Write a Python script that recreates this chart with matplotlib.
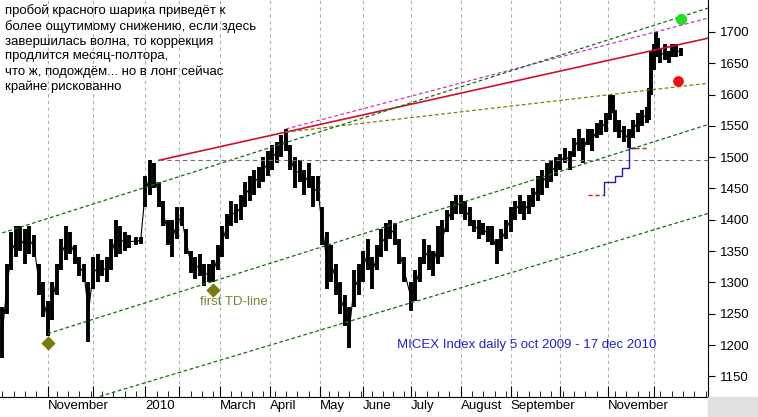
import numpy as np
import matplotlib
matplotlib.use("Agg")
import matplotlib.pyplot as plt
from matplotlib.patches import Rectangle

plt.rcParams['font.family'] = ['Liberation Sans', 'DejaVu Sans']

# MICEX daily, sampled bars: date, low, high
bar_dates = [
    "2009-10-05", "2009-10-07", "2009-10-09", "2009-10-13", "2009-10-15", "2009-10-19",
    "2009-10-21", "2009-10-23", "2009-10-27", "2009-10-29", "2009-11-02", "2009-11-05",
    "2009-11-09", "2009-11-11", "2009-11-13", "2009-11-17", "2009-11-19", "2009-11-23",
    "2009-11-25", "2009-11-27", "2009-12-01", "2009-12-03", "2009-12-07", "2009-12-09",
    "2009-12-11", "2009-12-15", "2009-12-17", "2009-12-21", "2009-12-23", "2009-12-28",
    "2009-12-30", "2010-01-11", "2010-01-13", "2010-01-15", "2010-01-19", "2010-01-21",
    "2010-01-25", "2010-01-27", "2010-01-29", "2010-02-02", "2010-02-04", "2010-02-08",
    "2010-02-10", "2010-02-12", "2010-02-16", "2010-02-18", "2010-02-24", "2010-02-26",
    "2010-03-02", "2010-03-04", "2010-03-09", "2010-03-11", "2010-03-15", "2010-03-17",
    "2010-03-19", "2010-03-23", "2010-03-25", "2010-03-29", "2010-03-31", "2010-04-02",
    "2010-04-06", "2010-04-08", "2010-04-12", "2010-04-14", "2010-04-16", "2010-04-20",
    "2010-04-22", "2010-04-26", "2010-04-28", "2010-04-30", "2010-05-05", "2010-05-07",
    "2010-05-12", "2010-05-14", "2010-05-18", "2010-05-20", "2010-05-24", "2010-05-26",
    "2010-05-28", "2010-06-01", "2010-06-03", "2010-06-07", "2010-06-09", "2010-06-11",
    "2010-06-16", "2010-06-18", "2010-06-22", "2010-06-24", "2010-06-28", "2010-07-01",
    "2010-07-05", "2010-07-07", "2010-07-09", "2010-07-13", "2010-07-15", "2010-07-19",
    "2010-07-21", "2010-07-23", "2010-07-27", "2010-07-29", "2010-08-02", "2010-08-04",
    "2010-08-06", "2010-08-10", "2010-08-12", "2010-08-16", "2010-08-18", "2010-08-20",
    "2010-08-24", "2010-08-26", "2010-08-30", "2010-09-01", "2010-09-03", "2010-09-07",
    "2010-09-09", "2010-09-13", "2010-09-15", "2010-09-17", "2010-09-21", "2010-09-23",
    "2010-09-27", "2010-09-29", "2010-10-01", "2010-10-05", "2010-10-07", "2010-10-11",
    "2010-10-13", "2010-10-15", "2010-10-19", "2010-10-21", "2010-10-25", "2010-10-27",
    "2010-10-29", "2010-11-02", "2010-11-03", "2010-11-08", "2010-11-10", "2010-11-12",
    "2010-11-16", "2010-11-18", "2010-11-22", "2010-11-24", "2010-11-26", "2010-11-29",
    "2010-11-30", "2010-12-01", "2010-12-02", "2010-12-03", "2010-12-06", "2010-12-08",
    "2010-12-10", "2010-12-13", "2010-12-15", "2010-12-17",
]
bar_low = [
    1180, 1250, 1320, 1340, 1350, 1330, 1345, 1340, 1280, 1245, 1215, 1240,
    1280, 1320, 1335, 1345, 1330, 1310, 1300, 1205, 1290, 1300, 1310, 1300,
    1320, 1340, 1345, 1350, 1355, 1360, 1362, 1420, 1440, 1450, 1420, 1390,
    1360, 1340, 1370, 1390, 1345, 1315, 1305, 1310, 1295, 1300, 1300, 1320,
    1340, 1370, 1390, 1395, 1400, 1420, 1430, 1440, 1450, 1460, 1470, 1480,
    1490, 1500, 1510, 1480, 1450, 1460, 1440, 1450, 1420, 1430, 1360, 1290,
    1300, 1280, 1250, 1230, 1195, 1260, 1280, 1300, 1320, 1290, 1320, 1340,
    1350, 1370, 1360, 1330, 1300, 1255, 1270, 1300, 1330, 1320, 1310, 1330,
    1340, 1380, 1400, 1410, 1410, 1400, 1390, 1380, 1370, 1375, 1365, 1360,
    1330, 1350, 1370, 1380, 1400, 1410, 1400, 1410, 1420, 1430, 1440, 1450,
    1460, 1470, 1480, 1490, 1480, 1500, 1510, 1490, 1520, 1510, 1530, 1535,
    1540, 1560, 1570, 1540, 1530, 1525, 1515, 1530, 1540, 1550, 1555, 1560,
    1600, 1640, 1660, 1665, 1650, 1655, 1650, 1660, 1660, 1662,
]
bar_high = [
    1260, 1330, 1380, 1390, 1390, 1385, 1390, 1375, 1330, 1300, 1270, 1300,
    1330, 1370, 1390, 1380, 1360, 1340, 1330, 1300, 1340, 1345, 1335, 1340,
    1370, 1400, 1390, 1380, 1375, 1372, 1372, 1470, 1495, 1490, 1460, 1430,
    1400, 1400, 1420, 1420, 1385, 1350, 1340, 1345, 1330, 1330, 1335, 1360,
    1390, 1410, 1430, 1425, 1440, 1460, 1470, 1480, 1485, 1500, 1510, 1520,
    1525, 1535, 1545, 1520, 1500, 1495, 1480, 1490, 1470, 1470, 1420, 1380,
    1360, 1330, 1300, 1280, 1260, 1320, 1330, 1350, 1370, 1340, 1360, 1385,
    1395, 1400, 1395, 1370, 1340, 1300, 1320, 1340, 1370, 1360, 1350, 1390,
    1400, 1415, 1430, 1440, 1440, 1430, 1420, 1400, 1400, 1395, 1390, 1390,
    1370, 1385, 1400, 1420, 1430, 1440, 1430, 1440, 1450, 1470, 1480, 1490,
    1495, 1500, 1505, 1515, 1510, 1530, 1545, 1530, 1545, 1545, 1555, 1560,
    1570, 1600, 1600, 1575, 1560, 1550, 1545, 1560, 1570, 1575, 1580, 1610,
    1670, 1680, 1700, 1690, 1675, 1680, 1670, 1680, 1680, 1675,
]

holidays = ["2009-11-04", "2010-01-01", "2010-01-04", "2010-01-05", "2010-01-06",
            "2010-01-07", "2010-01-08", "2010-02-22", "2010-02-23", "2010-03-08",
            "2010-05-03", "2010-05-10", "2010-06-14", "2010-11-04", "2010-11-05"]

month_starts = ["2009-11-01", "2009-12-01", "2010-01-01", "2010-02-01", "2010-03-01",
                "2010-04-01", "2010-05-01", "2010-06-01", "2010-07-01", "2010-08-01",
                "2010-09-01", "2010-10-01", "2010-11-01", "2010-12-01"]
month_labels = ["November", "", "2010", "", "March", "April", "May", "June", "July",
                "August", "September", "", "November", ""]

# trend lines: (start date, start value, value at right edge)
red_line = ("2010-01-19", 1495, 1690)
magenta_line = ("2010-04-12", 1545, 1722)
olive_line = ("2010-04-12", 1540, 1618)
channel_top = ("2009-10-05", 1379, 1738)
channel_mid = ("2009-11-02", 1218, 1552)
channel_low = ("2009-12-04", 1118, 1410)
hline_level = 1495

td_steps_dates = ["2010-10-28", "2010-11-08", "2010-11-11", "2010-11-16", "2010-11-19"]
td_steps_vals = [1440, 1460, 1470, 1483, 1514]

diamonds_dates = ["2009-11-02", "2010-02-24"]
diamonds_vals = [1204, 1288]
green_dot = ("2010-12-17", 1720)
red_dot = ("2010-12-16", 1622)

note = ("пробой красного шарика приведёт к\n"
        "более ощутимому снижению, если здесь\n"
        "завершилась волна, то коррекция\n"
        "продлится месяц-полтора,\n"
        "что ж, подождём... но в лонг сейчас\n"
        "крайне рискованно")


def idx(d):
    return np.busday_count("2009-10-05", d, holidays=holidays)


fig = plt.figure(figsize=(7.58, 4.17), dpi=100)
ax = fig.add_axes([0, 0.048, 0.934, 0.952])
x_end = idx("2010-12-17") + 12
ax.set_xlim(-1, x_end)
ax.set_ylim(1117, 1751)

xs = [idx(d) for d in bar_dates]
ax.vlines(xs, bar_low, bar_high, color="black", lw=2.8)
ax.plot(xs, [(l + h) / 2 for l, h in zip(bar_low, bar_high)], color="black", lw=0.8)

for d in month_starts:
    ax.axvline(idx(d), color="#b0b0b0", ls=(0, (3, 3)), lw=0.8, zorder=0)


def trend(line, **kw):
    d, v0, v1 = line
    ax.plot([idx(d), x_end], [v0, v1], **kw)


trend(red_line, color="#d01030", lw=1.2)
trend(magenta_line, color="#cc33cc", lw=0.9, ls=(0, (3, 2)))
trend(olive_line, color="#808000", lw=0.9, ls=(0, (3, 2)))
for ln in (channel_top, channel_mid, channel_low):
    trend(ln, color="#107010", lw=0.9, ls=(0, (3, 2)))
ax.plot([idx("2010-01-19"), x_end], [hline_level, hline_level], color="#707070",
        lw=0.8, ls=(0, (4, 3)))

sx = [idx(d) for d in td_steps_dates]
ax.plot([sx[0] - 7, sx[0]], [td_steps_vals[0]] * 2, color="#cc2020", lw=1, ls=(0, (3, 2)))
ax.step(sx, td_steps_vals, where="pre", color="#2020a0", lw=1)
ax.plot([sx[-1], sx[-1] + 5], [td_steps_vals[-1]] * 2, color="#cc2020", lw=1, ls=(0, (3, 2)))

ax.scatter([idx(d) for d in diamonds_dates], diamonds_vals, marker="D", s=40,
           color="#7a7a10", zorder=5)
ax.scatter([idx(green_dot[0])], [green_dot[1]], s=50, color="#22dd22", zorder=5)
ax.scatter([idx(red_dot[0])], [red_dot[1]], s=45, color="#ee1111", zorder=5)

ax.text(idx("2010-02-12"), 1278, "first TD-line", color="#808030", fontsize=9.5, va="top")
ax.text(idx("2010-06-23"), 1200, "MICEX Index daily 5 oct 2009 - 17 dec 2010",
        color="#2020cc", fontsize=9.5, va="center")
ax.text(0.007, 0.99, note, transform=ax.transAxes, fontsize=9.5, va="top",
        linespacing=1.3)

ax.set_xticks([idx(d) for d in month_starts])
ax.set_xticklabels(month_labels, ha="left", fontsize=9.5)
weeks = np.arange(np.datetime64("2009-10-05"), np.datetime64("2011-01-05"), 7)
ax.set_xticks([idx(str(w)) for w in weeks], minor=True)
ax.tick_params(axis="x", which="major", length=8, pad=2, direction="in")
ax.tick_params(axis="x", which="minor", length=4, direction="in")
ax.yaxis.tick_right()
ax.set_yticks(np.arange(1150, 1701, 50))
ax.tick_params(axis="y", length=5, labelsize=9.5)
for s in ("top", "left"):
    ax.spines[s].set_visible(False)

fig.patches.append(Rectangle((0.934, 0), 0.066, 0.048, transform=fig.transFigure,
                             color="#e0e0e0"))
fig.savefig("out.png", dpi=100)
